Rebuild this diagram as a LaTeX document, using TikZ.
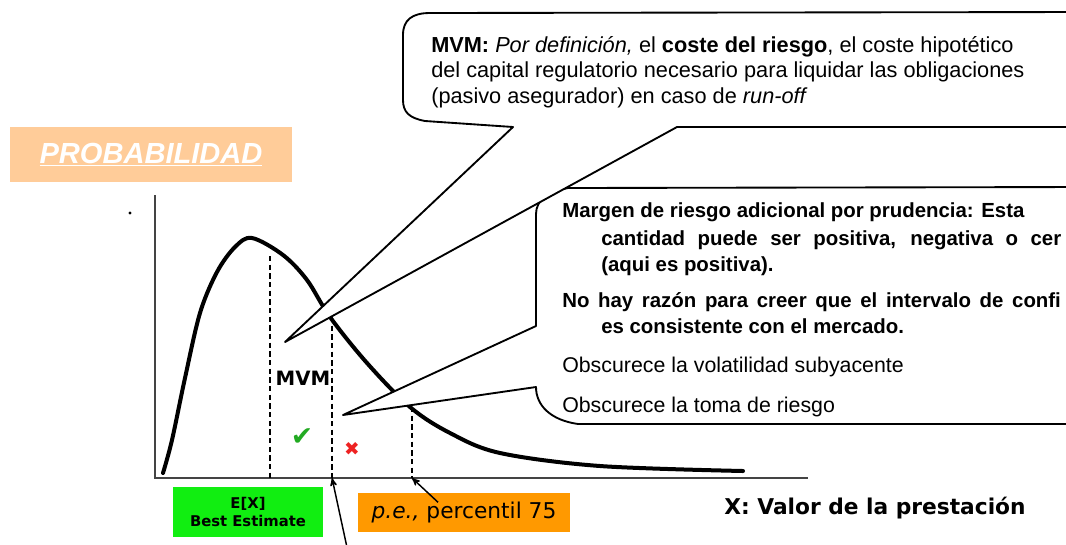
\documentclass[tikz,border=0pt]{standalone}
\usepackage{fontspec}
\setmainfont{Liberation Sans}
\newfontfamily\verdana{DejaVu Sans}
\usepackage{xcolor}
\usepackage{tikz}
\usetikzlibrary{arrows}

\definecolor{peach}{HTML}{FFCC99}
\definecolor{vivgreen}{HTML}{11EE11}
\definecolor{orangebox}{HTML}{FF9900}
\definecolor{okgreen}{HTML}{22AA22}
\definecolor{badred}{HTML}{EE2222}
\definecolor{axisgray}{HTML}{444444}

\begin{document}
\begin{tikzpicture}[x=0.75pt,y=-0.75pt,
  every node/.style={inner sep=0pt},
  bubble/.style={draw=black,line width=1.4pt,fill=white,line join=round},
  guide/.style={line width=1.7pt,dash pattern=on 4pt off 2.5pt},
  topline/.style={anchor=base west,font=\fontsize{16.3}{19}\selectfont},
  sideline/.style={anchor=base west,font=\fontsize{16}{19}\selectfont},
  sidebold/.style={anchor=base west,font=\bfseries\fontsize{15.3}{18}\selectfont},
  verd/.style={font=\verdana\bfseries}]
\useasboundingbox (0,0) rectangle (1066,544);

% titulo
\node[fill=peach,minimum width=211.5pt,minimum height=41pt] (prob) at (151,154.5)
  {\fontsize{21.8}{25}\selectfont\bfseries\itshape\color{white}\underline{PROBABILIDAD}};
\fill (130,213) circle (1.2pt);

% ejes y densidad
\coordinate (origin) at (155,478);
\draw[line width=1.4pt,axisgray] (155,195) -- (origin) -- (808,478);
\draw[line width=3pt,line cap=round] plot[smooth,tension=0.55] coordinates
  {(163,473) (172,440) (185,378) (200,313) (217,272) (235,247) (252,238) (283,255) (307,280)
   (330,317) (367,363) (410,407) (450,433) (500,453) (600,466) (743,471)};

\coordinate (ex) at (270,478);
\coordinate (mvmend) at (332,478);
\coordinate (p75) at (412,478);
\draw[guide] (270,256) -- (ex);
\draw[guide,line width=1.4pt] (332,317) -- (mvmend);
\draw[guide,line width=1.4pt] (412,407) -- (p75);

\node[verd,font=\verdana\bfseries\fontsize{14.8}{17}\selectfont] (mvm) at (303,378) {MVM};
\node[text=okgreen,font=\verdana\fontsize{20}{22}\selectfont] (ok) at (302,437) {✔};
\node[text=badred,font=\verdana\fontsize{14}{16}\selectfont] (bad) at (352,449) {✖};

% cajas bajo el eje
\node[fill=vivgreen,minimum width=113pt,minimum height=37.5pt,align=center,
  font=\verdana\bfseries\fontsize{11.1}{14.2}\selectfont] (best) at (248,512) {E[X]\\Best Estimate};
\node[fill=orangebox,minimum width=159pt,minimum height=29pt,
  font=\verdana\fontsize{16.3}{18}\selectfont] (pe) at (464,512.5) {\textit{p.e.,} percentil 75};
\node[verd,font=\verdana\bfseries\fontsize{16.3}{19}\selectfont] (xlab) at (875,508) {X: Valor de la prestación};

\coordinate (under) at (348,552);
\draw[->,>=stealth',line width=1.1pt] ([xshift=-19.5pt,yshift=-7pt]pe.north) -- (p75);
\draw[->,>=stealth',line width=1.1pt] (under) -- (mvmend);

% globos
\coordinate (tiptop) at (285,342);
\coordinate (tiplow) at (343,415);
\draw[bubble] (tiplow) -- (536,326) -- (536,214) .. controls (536,200) and (548,192) .. (568,188)
  -- (1085,187) -- (1085,424) -- (578,424) .. controls (550,420) and (536,405) .. (536,387) -- cycle;
\draw[bubble] (tiptop) -- (513,127) -- (425,121) .. controls (409,118) and (403,112) .. (403,100)
  -- (403,35) .. controls (403,20) and (412,13) .. (430,13) -- (1085,12) -- (1085,127) -- (677,127) -- cycle;

\node[topline] (t1) at (431,52) {\textbf{MVM:} \textit{Por definición,} el \textbf{coste del riesgo}, el coste hipotético};
\node[topline] (t2) at (431,77.5) {del capital regulatorio necesario para liquidar las obligaciones};
\node[topline] (t3) at (431,103) {(pasivo asegurador) en caso de \textit{run-off}};

\node[sidebold] (s1) at (562,217) {Margen de riesgo adicional por prudencia: Esta};
\node[sidebold] (s2) at (601,245) {\makebox[345pt][s]{cantidad puede ser positiva, negativa o cer}};
\node[sidebold] (s3) at (601,271) {(aqui es positiva).};
\node[sidebold] (s4) at (562,307) {\makebox[374pt][s]{No hay razón para creer que el intervalo de confi}};
\node[sidebold] (s5) at (601,333) {es consistente con el mercado.};
\node[sideline] (s6) at (562,372) {Obscurece la volatilidad subyacente};
\node[sideline] (s7) at (562,412) {Obscurece la toma de riesgo};
\end{tikzpicture}
\end{document}
